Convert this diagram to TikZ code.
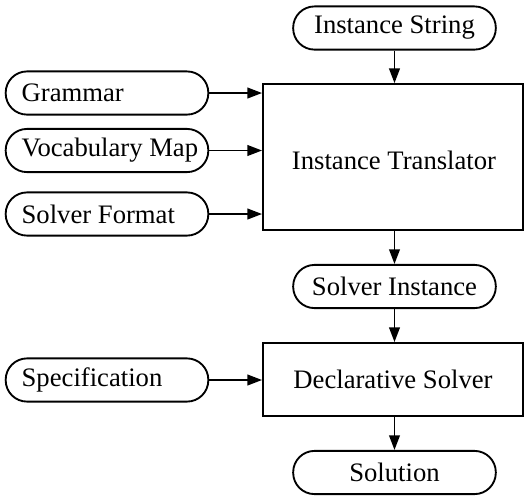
\documentclass[tikz,border=0pt]{standalone}
\usepackage{fontspec}
\setmainfont{Liberation Serif}
\usepackage{tikz}
\usetikzlibrary{arrows.meta,positioning}

\newcommand{\leftlbl}[1]{\makebox[64pt][l]{#1}}

\begin{document}
\begin{tikzpicture}[font=\fontsize{10pt}{12pt}\selectfont, x=0.375pt, y=-0.375pt, line width=0.7pt,
  pill/.style={draw, rounded corners=8pt, minimum width=76pt, minimum height=16.2pt, inner sep=0pt},
  block/.style={draw, minimum width=97.5pt, inner sep=0pt},
  flow/.style={-{Triangle[length=5.5pt,width=4pt]}}]
\useasboundingbox (0,0) rectangle (524,496);
\node[pill] (insstr) at (394.5,28) {Instance String};
\node[pill] (grammar) at (107,93) {\leftlbl{Grammar}};
\node[pill] (vocab) at (107,150.5) {\leftlbl{Vocabulary Map}};
\node[pill] (fmt) at (107,214) {\leftlbl{Solver Format}};
\node[block, minimum height=54.7pt] (translator) at (393,157) {};
\node at (394,160) {Instance Translator};
\node[pill] (solverins) at (394.5,286.5) {Solver Instance};
\node[pill] (spec) at (107,380) {\leftlbl{Specification}};
\node[block, minimum height=27.4pt] (declsolver) at (393,379.5) {Declarative Solver};
\node[pill] (solution) at (394.5,472.5) {Solution};
% inputs into the translator
\draw[flow] (insstr.south) -- (insstr.south |- translator.north);
\draw[flow] (grammar.east) -- (grammar.east -| translator.west);
\draw[flow] (vocab.east) -- (vocab.east -| translator.west);
\draw[flow] (fmt.east) -- (fmt.east -| translator.west);
% solving chain
\draw[flow] (insstr.south |- translator.south) -- (solverins.north);
\draw[flow] (solverins.south) -- (solverins.south |- declsolver.north);
\draw[flow] (spec.east) -- (spec.east -| declsolver.west);
\draw[flow] (solverins.south |- declsolver.south) -- (solution.north);
\end{tikzpicture}
\end{document}
